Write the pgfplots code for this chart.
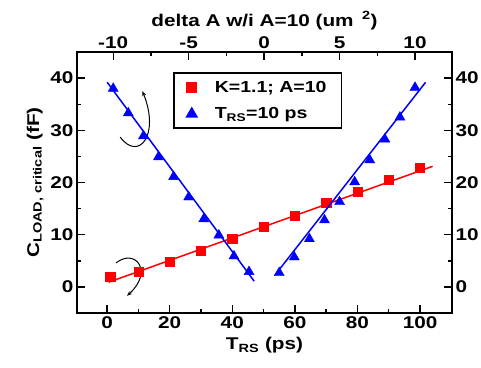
\documentclass[border=0pt]{standalone}
\usepackage{pgfplots}
\pgfplotsset{compat=1.18}
\usetikzlibrary{arrows.meta}
\usepackage{fontspec}
\setmainfont{Liberation Sans}[FakeStretch=1.22]
\begin{document}
\begin{tikzpicture}
\pgfplotsset{
  base/.style={
    at={(0,0)}, anchor=south west,
    scale only axis, width=375pt, height=261pt,
    ymin=-5, ymax=45,
    font=\fontsize{17}{20}\selectfont\bfseries,
    tick label style={font=\fontsize{17}{20}\selectfont\bfseries},
    /pgf/number format/assume math mode=true,
    axis line style={line width=1.6pt},
    major tick length=8pt, minor tick length=4pt,
    every tick/.style={line width=1.4pt, black},
    tick align=inside,
    ytick={0,10,20,30,40}, minor ytick={5,15,25,35},
  }
}
% bottom / left axis: red series
\begin{axis}[base,
  xmin=-9.6, xmax=110.2,
  xtick={0,20,40,60,80,100}, minor xtick={10,30,50,70,90},
  xtick pos=left, xticklabel pos=left, ytick pos=left, yticklabel pos=left,
  xlabel={T\textsubscript{RS} (ps)},
  ylabel={C\textsubscript{LOAD, critical} (fF)},
  xlabel style={yshift=-2pt},
]
\addplot[red, only marks, mark=square*, mark size=4.6pt] coordinates {
 (1,1.9) (10,2.9) (20,4.8) (30,6.9) (40,9.2) (50,11.5) (60,13.6) (70,16.1) (80,18.2) (90,20.5) (100,22.9)
};
\addplot[red, line width=1.5pt, no marks] coordinates {(0.5,0.9) (104,23.1)};
\draw[-{Stealth[length=5pt,width=4pt]}, line width=1pt, black] (axis cs:4.2,28.7) .. controls (axis cs:10,24) and (axis cs:17,29) .. (axis cs:11.3,37.5);
\draw[-{Stealth[length=5pt,width=4pt]}, line width=1pt, black] (axis cs:2.9,4.6) .. controls (axis cs:9,7.5) and (axis cs:15,3) .. (axis cs:6.4,-1.7);
\end{axis}
% top / right axis: blue series
\begin{axis}[base,
  xmin=-12.4, xmax=12.45,
  xtick={-10,-5,0,5,10}, minor xtick={-7.5,-2.5,2.5,7.5},
  xtick pos=right, xticklabel pos=right, ytick pos=right, yticklabel pos=right,
  xlabel={delta A w/i A=10 (um\,\,\,\textsuperscript{2})},
  legend style={at={(0.256,0.923)}, anchor=north west, draw=black, line width=1.5pt,
    font=\fontsize{16}{19}\selectfont\bfseries, inner xsep=13pt, inner ysep=6pt,
    row sep=10pt, /tikz/every odd column/.append style={column sep=16pt}},
  legend cell align=left,
]
\addlegendimage{only marks, mark=square*, red, mark size=4.6pt}
\addlegendentry{K=1.1; A=10}
\addplot[blue, only marks, mark=triangle*, mark size=5.8pt] coordinates {
 (-10,38.0) (-9,33.3) (-8,28.9) (-7,24.9) (-6,21.1) (-5,17.2) (-4,13.0) (-3,9.9) (-2,5.9) (-1,2.9)
 (1,2.7) (2,5.7) (3,9.2) (4,12.8) (5,16.3) (6,20.1) (7,24.3) (8,28.3) (9,32.5) (10,38.2)
};
\addlegendentry{T\textsubscript{RS}=10 ps}
\addplot[blue, line width=1.5pt, no marks, forget plot] coordinates {(-10.4,39.2) (-0.66,1.1)};
\addplot[blue, line width=1.5pt, no marks, forget plot] coordinates {(0.73,2.3) (10.7,39.2)};
\end{axis}
\pgfresetboundingbox
\path[use as bounding box] (-77pt,-54pt) rectangle (404pt,313pt);
\end{tikzpicture}
\end{document}
